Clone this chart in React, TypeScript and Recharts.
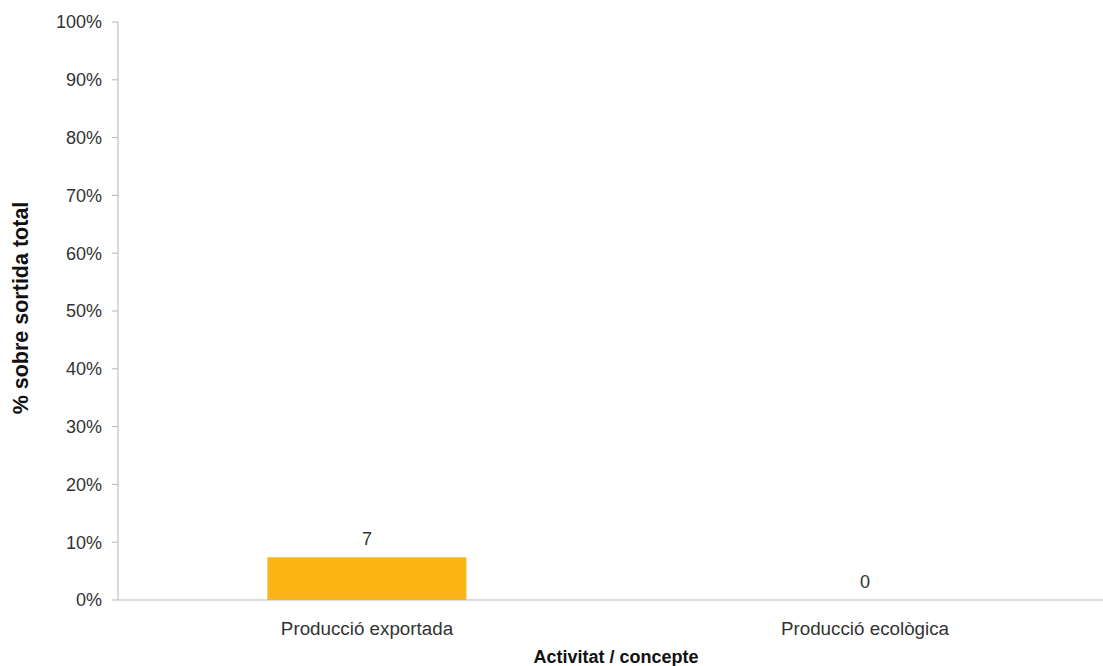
import { ComposedChart, Bar, Line, XAxis, YAxis, LabelList } from 'recharts';

const categories = ['Producció exportada', 'Producció ecològica'];
const shares = [7.4, 0];
const yTicks = [0, 10, 20, 30, 40, 50, 60, 70, 80, 90, 100];

const data = categories.map((name, i) => ({ name, value: shares[i] }));

const FONT = '"Liberation Sans", Arial, Helvetica, sans-serif';
const AXIS = '#b5b5b5';
const TEXT = '#333333';

export default function App() {
  return (
    <div
      style={{
        position: 'absolute',
        left: 0,
        top: 0,
        width: 1103,
        height: 666,
        overflow: 'hidden',
        background: '#fff',
        fontFamily: FONT,
      }}
    >
      <ComposedChart
        width={1114}
        height={666}
        data={data}
        margin={{ top: 22, right: 0, left: 0, bottom: 0 }}
        barCategoryGap="30%"
      >
        {/* only draws the small tick between the two categories */}
        <XAxis
          xAxisId="edges"
          type="number"
          domain={[0, 2]}
          ticks={[1]}
          height={0}
          axisLine={false}
          tickLine={{ stroke: '#999' }}
          tickSize={6}
          tick={() => <g />}
          allowDataOverflow
        />
        <XAxis
          dataKey="name"
          height={66}
          axisLine={{ stroke: AXIS }}
          tickLine={false}
          tickSize={5}
          tickMargin={17}
          tick={{ fill: TEXT, fontSize: 18.8, fontFamily: FONT }}
          label={{
            value: 'Activitat / concepte',
            position: 'insideBottom',
            offset: 3,
            fill: '#111',
            fontSize: 18,
            fontWeight: 'bold',
            fontFamily: FONT,
          }}
        />
        <YAxis
          width={118}
          domain={[0, 100]}
          ticks={yTicks}
          interval={0}
          tickFormatter={(v: number) => `${v}%`}
          axisLine={{ stroke: AXIS }}
          tickLine={{ stroke: AXIS }}
          tickSize={6}
          tickMargin={10}
          tick={{ fill: TEXT, fontSize: 18, fontFamily: FONT }}
          label={{
            value: '% sobre sortida total',
            angle: -90,
            position: 'center',
            dx: -39,
            dy: -3,
            fill: '#111',
            fontSize: 21.5,
            fontWeight: 'bold',
            fontFamily: FONT,
          }}
        />
        <Bar dataKey="value" fill="#FDB515" isAnimationActive={false} />
        {/* invisible line just to carry the value labels (bars of height 0 get none) */}
        <Line
          dataKey="value"
          stroke="none"
          dot={false}
          activeDot={false}
          isAnimationActive={false}
        >
          <LabelList
            dataKey="value"
            position="top"
            offset={12}
            formatter={(v: number) => Math.round(v)}
            style={{ fill: TEXT, fontSize: 18, fontFamily: FONT }}
          />
        </Line>
      </ComposedChart>
    </div>
  );
}
